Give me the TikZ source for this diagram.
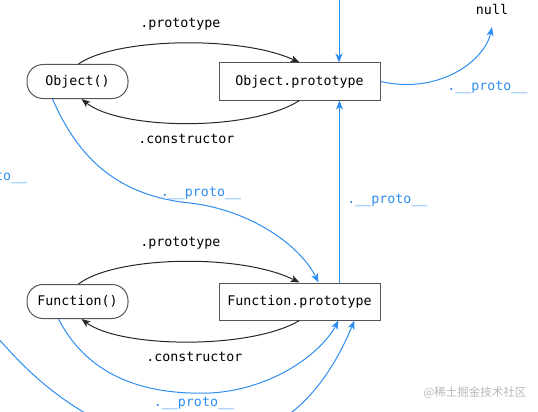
\documentclass[tikz,border=0pt]{standalone}
\usepackage{fontspec}
\setmonofont{DejaVu Sans Mono}
\newfontfamily\cjk{Noto Sans CJK SC}
\usepackage{xcolor}
\usetikzlibrary{arrows.meta,positioning}
\definecolor{protoblue}{HTML}{2E8DF0}
\definecolor{boxgray}{HTML}{555555}
\begin{document}
\begin{tikzpicture}[
    x=1pt, y=-1pt,
    >={Stealth[length=9pt,width=7pt,inset=2.5pt]},
    font=\fontsize{13.3}{16}\selectfont\ttfamily,
    line width=1pt,
    ctor/.style={draw=boxgray, rounded corners=16pt, minimum width=101pt,
      minimum height=34pt, inner sep=0pt},
    proto/.style={draw=boxgray, minimum width=161pt, minimum height=37pt,
      inner sep=0pt},
    link/.style={->, draw=black!85},
    plink/.style={->, draw=protoblue},
    plabel/.style={text=protoblue},
  ]
  \useasboundingbox (0,0) rectangle (538,412);
  \clip (0,0) rectangle (538,412);

  % Constructors
  \node[ctor] (obj) at (77.5,81.5) {Object()};
  \node[ctor, below=185pt of obj] (fun) {Function()};

  % Prototypes
  \node[proto, right=90pt of obj] (objp) {Object.prototype};
  \node[proto, right=90pt of fun] (funp) {Function.prototype};
  \node (nul) at (492,10) {null};

  % Free ends
  \coordinate (topin) at (339,-5);
  \coordinate (far) at (-30,305);
  \node[plabel, anchor=east] (lostlbl) at (31,177) {.\_\_proto\_\_};

  % Object <-> Object.prototype
  \draw[link] ([xshift=1pt]obj.north) .. controls (115,38) and (240,35) .. (objp.north)
    node[midway, above=9pt] {.prototype};
  \draw[link] (objp.south) .. controls (250,132) and (120,130) .. ([xshift=4pt]obj.south)
    node[midway, below=7pt] {.constructor};

  % Function <-> Function.prototype
  \draw[link] ([xshift=1pt]fun.north) .. controls (115,256) and (240,253) .. (funp.north)
    node[midway, above=9pt] {.prototype};
  \draw[link] (funp.south) .. controls (250,350) and (120,348) .. ([xshift=4pt]fun.south)
    node[midway, below=7pt, xshift=8pt] {.constructor};

  % __proto__ chain
  \draw[plink] (topin) -- (topin |- objp.north);
  \draw[plink] ([xshift=40pt]funp.north) -- ([xshift=40pt]funp.north |- objp.south)
    node[pos=0.45, right=4pt, plabel] {.\_\_proto\_\_};
  \draw[plink] (objp.east) .. controls (440,95) and (485,60) .. ([yshift=-8pt]nul.south)
    node[pos=0.4, below right, plabel] {.\_\_proto\_\_};
  \draw[plink] ([xshift=-25pt]obj.south) .. controls (75,150) and (110,195) .. (190,203)
    node[above, xshift=11pt, plabel] {.\_\_proto\_\_}
    .. controls (250,210) and (300,245) .. ([xshift=19pt]funp.north);
  \draw[plink] ([xshift=-19pt]fun.south) .. controls (90,380) and (150,395) .. (210,393)
    node[below, xshift=-16pt, plabel] {.\_\_proto\_\_}
    .. controls (270,390) and (320,355) .. ([xshift=39pt]funp.south);
  \draw[plink] (far) .. controls (20,365) and (60,415) .. (170,450)
    .. controls (280,450) and (325,390) .. ([xshift=55pt]funp.south);

  % Watermark
  \node[text=gray!55, font=\cjk\fontsize{11.5}{14}\selectfont] (mark) at (475,393) {@稀土掘金技术社区};
\end{tikzpicture}
\end{document}
